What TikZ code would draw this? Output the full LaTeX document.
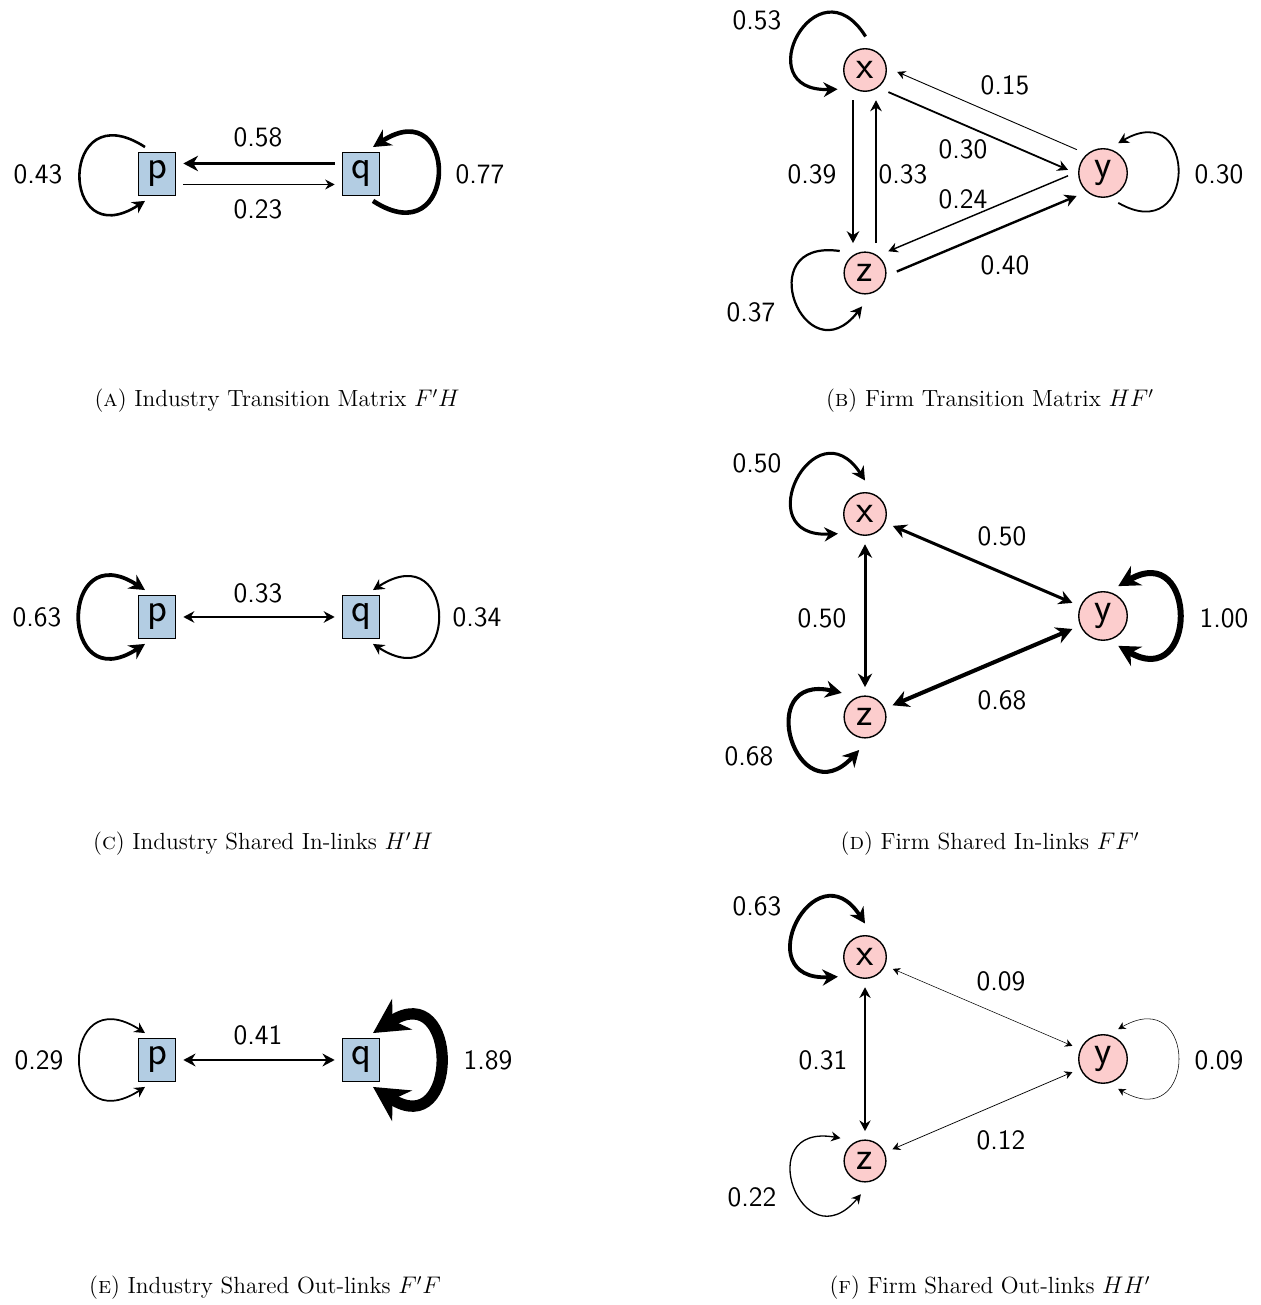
\documentclass[tikz,border=0pt]{standalone}
\usetikzlibrary{arrows.meta,calc}
\definecolor{boxblue}{HTML}{B3CDE3}
\definecolor{circred}{RGB}{252,205,205}
\newcommand{\boxloop}[3][]{\draw[#1] ($(#2)+({#3-66}:29.5)$) .. controls +({#3-33}:103) and +({#3+33}:103) .. ($(#2)+({#3+66}:29.5)$);}
\newcommand{\circloop}[3][]{\draw[#1] ($(#2)+({#3-63}:33.5)$) .. controls +({#3-30}:92) and +({#3+30}:92) .. ($(#2)+({#3+63}:33.5)$);}
\begin{document}
\begin{tikzpicture}[x=0.5pt,y=0.5pt,
  >={Stealth[length=3pt 2.5,width'=0pt 1.05]},
  wt/.style={line width=#1*3pt},
  boxn/.style={draw, fill=boxblue, rectangle, inner sep=4.2pt, outer sep=4pt, line width=0.7pt, font=\sffamily\fontsize{20.5}{24}\selectfont},
  circn/.style={draw, fill=circred, circle, inner sep=3.2pt, outer sep=4.5pt, line width=0.7pt, font=\sffamily\fontsize{20}{24}\selectfont},
  lbl/.style={font=\sffamily\fontsize{14}{16}\selectfont},
  captext/.style={font=\fontsize{11.7}{14}\selectfont}]
\useasboundingbox (0,0) rectangle (1260,1305);
% ---------------- A
\node[boxn] (pA) at (157,1131) {p};
\node[boxn] (qA) at (361,1131) {q};
\draw[->,wt=0.58,transform canvas={shift={(0,10.5)}}] (qA) -- (pA);
\draw[->,wt=0.23,transform canvas={shift={(0,-10.5)}}] (pA) -- (qA);
\boxloop[->,wt=0.43]{pA}{180}
\boxloop[->,wt=0.77]{qA}{0}
\node[lbl] (lA1) at (258,1168) {0.58};
\node[lbl] (lA2) at (258,1096) {0.23};
\node[lbl] (lA3) at (38,1131) {0.43};
\node[lbl] (lA4) at (480,1131) {0.77};
\node[captext] (capA) at (277,904) {(\textsc{a}) Industry Transition Matrix $F'H$};
% ---------------- B
\node[circn] (xB) at (865,1235) {x};
\node[circn] (yB) at (1103,1132) {y};
\node[circn] (zB) at (865,1032) {z};
\draw[->,wt=0.39,transform canvas={shift={(-12,0)}}] (xB) -- (zB);
\draw[->,wt=0.33,transform canvas={shift={(11,0)}}] (zB) -- (xB);
\draw[->,wt=0.30,transform canvas={shift={(-4.4,-10.1)}}] (xB) -- (yB);
\draw[->,wt=0.15,transform canvas={shift={(4.4,10.1)}}] (yB) -- (xB);
\draw[->,wt=0.24,transform canvas={shift={(-4.3,10.1)}}] (yB) -- (zB);
\draw[->,wt=0.40,transform canvas={shift={(4.3,-10.1)}}] (zB) -- (yB);
\circloop[->,wt=0.53]{xB}{152}
\circloop[->,wt=0.30]{yB}{0}
\circloop[->,wt=0.37]{zB}{202}
\node[lbl] (lB1) at (1005,1220) {0.15};
\node[lbl] (lB2) at (963,1156) {0.30};
\node[lbl] (lB3) at (963,1106) {0.24};
\node[lbl] (lB4) at (1005,1040) {0.40};
\node[lbl] (lB5) at (812,1131) {0.39};
\node[lbl] (lB6) at (903,1131) {0.33};
\node[lbl] (lB7) at (757,1285) {0.53};
\node[lbl] (lB8) at (751,993) {0.37};
\node[lbl] (lB9) at (1219,1131) {0.30};
\node[captext] (capB) at (990,904) {(\textsc{b}) Firm Transition Matrix $HF'$};
% ---------------- C
\node[boxn] (pC) at (157,688) {p};
\node[boxn] (qC) at (361,688) {q};
\draw[<->,wt=0.33] (pC) -- (qC);
\boxloop[<->,wt=0.63]{pC}{180}
\boxloop[<->,wt=0.34]{qC}{0}
\node[lbl] (lC1) at (258,712) {0.33};
\node[lbl] (lC2) at (37,688) {0.63};
\node[lbl] (lC3) at (477,688) {0.34};
\node[captext] (capC) at (263,461) {(\textsc{c}) Industry Shared In-links $H'H$};
% ---------------- D
\node[circn] (xD) at (865,791) {x};
\node[circn] (yD) at (1103,689) {y};
\node[circn] (zD) at (865,588) {z};
\draw[<->,wt=0.50] (xD) -- (yD);
\draw[<->,wt=0.50] (xD) -- (zD);
\draw[<->,wt=0.68] (zD) -- (yD);
\circloop[<->,wt=0.50]{xD}{153}
\circloop[<->,wt=1.00]{yD}{0}
\circloop[<->,wt=0.68]{zD}{197}
\node[lbl] (lD1) at (1002,769) {0.50};
\node[lbl] (lD2) at (822,687) {0.50};
\node[lbl] (lD3) at (1002,605) {0.68};
\node[lbl] (lD4) at (757,842) {0.50};
\node[lbl] (lD5) at (1224,687) {1.00};
\node[lbl] (lD6) at (749,549) {0.68};
\node[captext] (capD) at (990,461) {(\textsc{d}) Firm Shared In-links $FF'$};
% ---------------- E
\node[boxn] (pE) at (157,245) {p};
\node[boxn] (qE) at (361,245) {q};
\draw[<->,wt=0.41] (pE) -- (qE);
\boxloop[<->,wt=0.29]{pE}{180}
\boxloop[<->,wt=1.89]{qE}{0}
\node[lbl] (lE1) at (258,270) {0.41};
\node[lbl] (lE2) at (39,245) {0.29};
\node[lbl] (lE3) at (488,245) {1.89};
\node[captext] (capE) at (265,17) {(\textsc{e}) Industry Shared Out-links $F'F$};
% ---------------- F
\node[circn] (xF) at (865,348) {x};
\node[circn] (yF) at (1103,246) {y};
\node[circn] (zF) at (865,144) {z};
\draw[<->,wt=0.09] (xF) -- (yF);
\draw[<->,wt=0.31] (xF) -- (zF);
\draw[<->,wt=0.12] (zF) -- (yF);
\circloop[<->,wt=0.63]{xF}{153}
\circloop[<->,wt=0.09]{yF}{0}
\circloop[<->,wt=0.22]{zF}{200}
\node[lbl] (lF1) at (1001,324) {0.09};
\node[lbl] (lF2) at (823,245) {0.31};
\node[lbl] (lF3) at (1001,165) {0.12};
\node[lbl] (lF4) at (757,399) {0.63};
\node[lbl] (lF5) at (1219,245) {0.09};
\node[lbl] (lF6) at (752,108) {0.22};
\node[captext] (capF) at (990,17) {(\textsc{f}) Firm Shared Out-links $HH'$};
\end{tikzpicture}
\end{document}
